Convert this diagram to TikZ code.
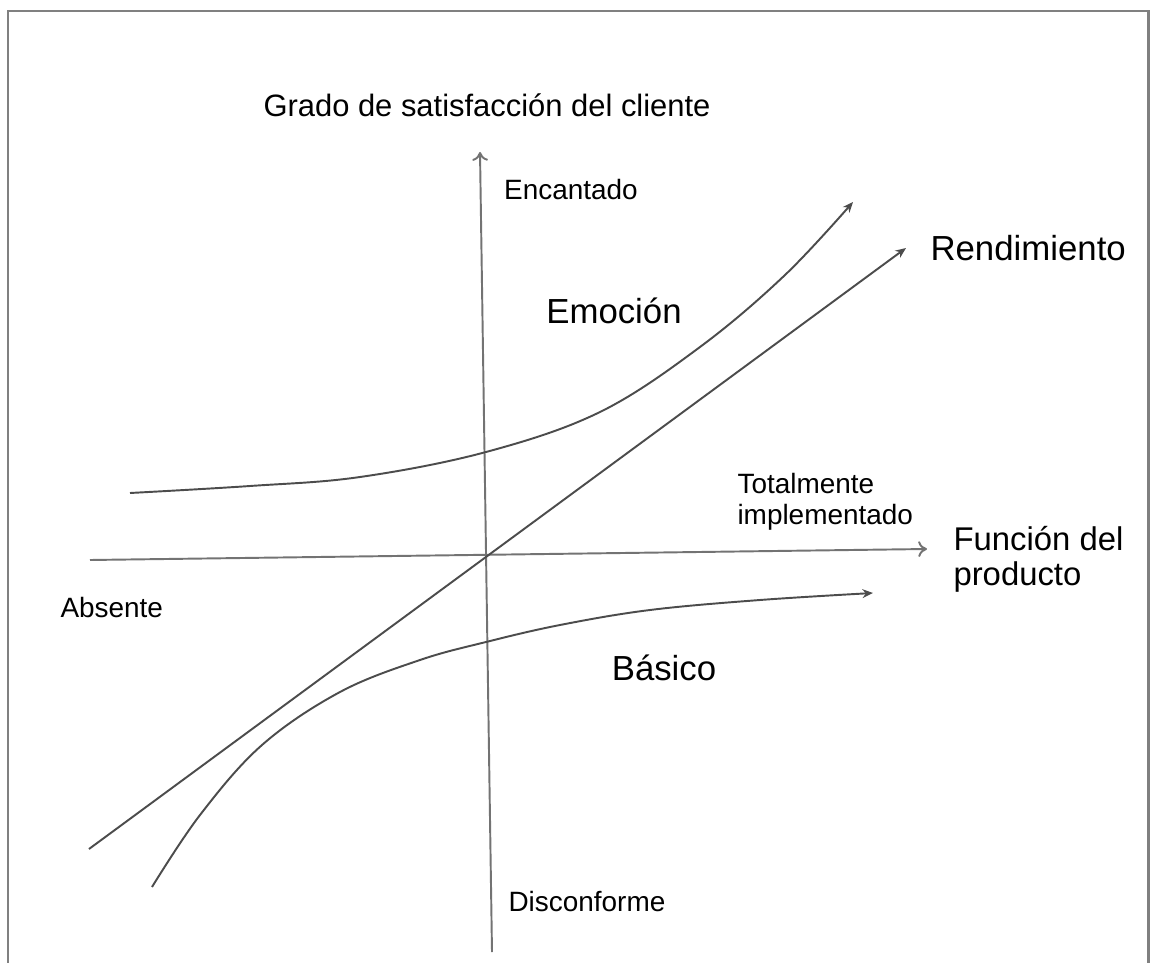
\documentclass[tikz,border=0pt]{standalone}
\usepackage{fontspec}
\setmainfont{Liberation Sans}
\usetikzlibrary{arrows.meta}

\begin{document}
\begin{tikzpicture}[x=0.02cm,y=-0.02cm,semithick]
\tikzstyle{axis}=[draw=black!55,line width=1.1pt,-{To[length=5pt,width=9pt]}]
\tikzstyle{curve}=[draw=black!70,line width=1.1pt,-{Stealth[length=6pt,width=5pt]}]
\tikzstyle{small}=[font=\fontsize{15.9}{17.6}\selectfont,inner sep=0pt]
\tikzstyle{big}=[font=\fontsize{19.8}{21}\selectfont,inner sep=0pt]

\useasboundingbox (0,0) rectangle (1150,963);
\draw[black!50,line width=1.7pt] (8,963) -- (8,11) -- (1148,11) -- (1148,963);

% axes
\coordinate (xleft) at (90,560);
\coordinate (xright) at (927,549);
\coordinate (ybottom) at (492,952);
\coordinate (ytop) at (480,152);
\draw[axis] (xleft) -- (xright);
\draw[axis] (ybottom) -- (ytop);

% curves
\coordinate (emoA) at (130,493);
\coordinate (emoB) at (853,202);
\coordinate (renA) at (89,849);
\coordinate (renB) at (906,248);
\coordinate (basA) at (152,887);
\coordinate (basB) at (873,593);
\draw[curve] plot[smooth,tension=0.6] coordinates {(emoA) (250,486) (360,477) (486,452) (600,412) (700,347) (785,275) (emoB)};
\draw[curve] (renA) -- (renB);
\draw[curve] plot[smooth,tension=0.6] coordinates {(basA) (200,815) (262,745) (340,692) (420,660) (486,642) (560,625) (650,610) (760,600) (basB)};

% labels
\node[small,font=\fontsize{17.6}{19}\selectfont,anchor=base] (grado) at (487,117) {Grado de satisfacción del cliente};
\node[small,anchor=base] (encantado) at (571,199) {Encantado};
\node[big,anchor=base] (emocion) at (614,323) {Emoción};
\node[big,anchor=base west] (rendimiento) at (930,260) {Rendimiento};
\node[small,anchor=base west] (total) at (737,493) {Totalmente};
\node[small,anchor=base west] (impl) at (737,524) {implementado};
\node[big,font=\fontsize{18.7}{20}\selectfont,anchor=base west] (funcion) at (953,550) {Función del};
\node[big,font=\fontsize{18.7}{20}\selectfont,anchor=base west] (producto) at (953,585) {producto};
\node[small,anchor=base west] (absente) at (60,617) {Absente};
\node[big,anchor=base] (basico) at (664,680) {Básico};
\node[small,anchor=base west] (disconforme) at (508,911) {Disconforme};
\end{tikzpicture}
\end{document}
